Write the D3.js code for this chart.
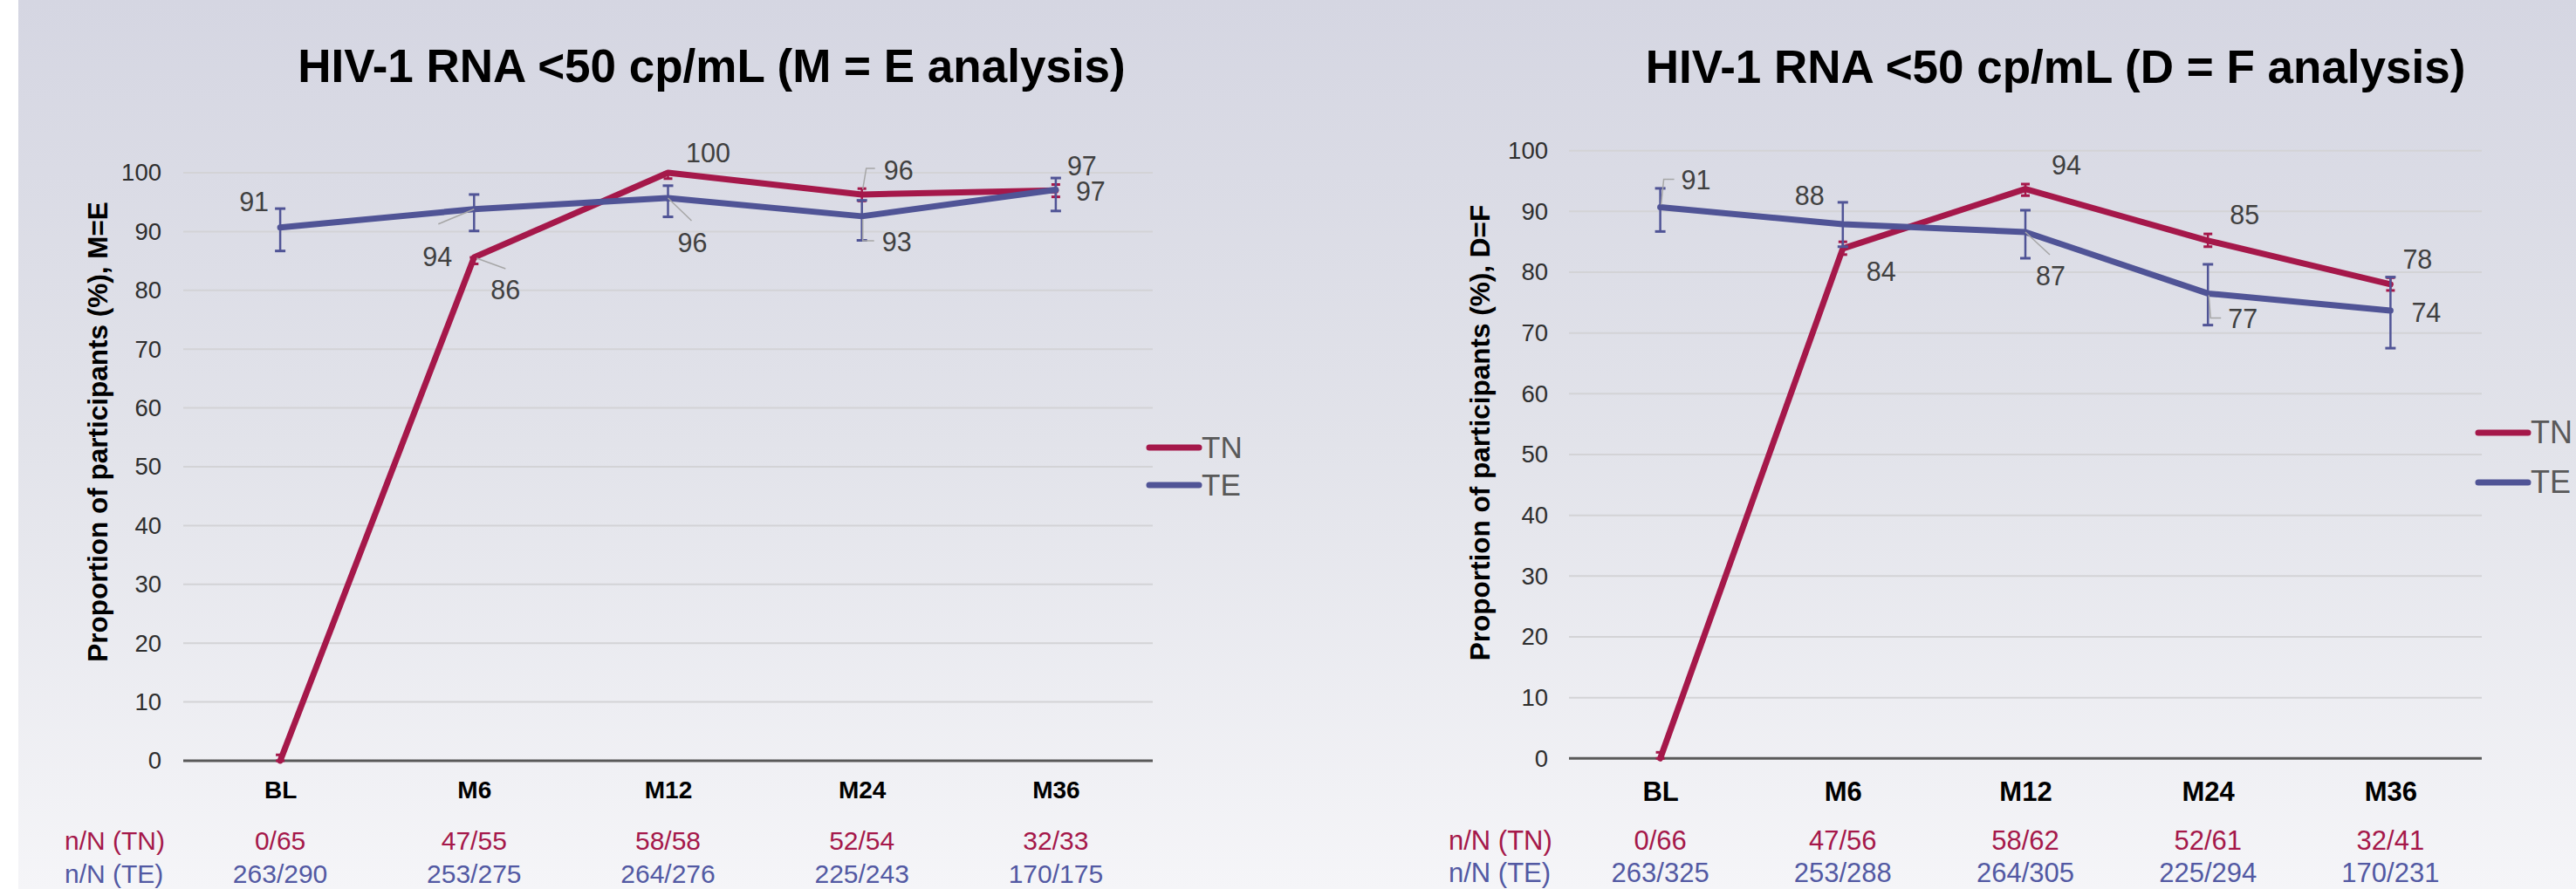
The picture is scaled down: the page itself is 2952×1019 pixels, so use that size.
<!DOCTYPE html>
<html>
<head>
<meta charset="utf-8">
<script src="https://cdn.jsdelivr.net/npm/d3@7"></script>
<style>
  html, body { margin: 0; padding: 0; background: #ffffff; }
  svg { display: block; }
</style>
</head>
<body>
<svg id="chart" width="2952" height="1019"></svg>
<script>
// ---- Data -------------------------------------------------------------
const categories = ["BL", "M6", "M12", "M24", "M36"];
const seriesNames = ["TN", "TE"];
const yTicks = [0, 10, 20, 30, 40, 50, 60, 70, 80, 90, 100];
const tableRowLabels = ["n/N (TN)", "n/N (TE)"];

// M = E analysis
const titleME = "HIV-1 RNA <50 cp/mL (M = E analysis)";
const yLabelME = "Proportion of participants (%), M=E";
const tnME = [0, 85.6, 100, 96.3, 97.0];
const teME = [90.7, 93.8, 95.7, 92.6, 97.1];
const tnLowME = [0, 84.5, 99.0, 95.2, 95.9];
const tnHighME = [1.0, 85.6, 100, 97.3, 98.0];
const teLowME = [86.7, 90.1, 92.5, 88.5, 93.5];
const teHighME = [93.9, 96.3, 97.8, 95.3, 99.1];
const nTnME = ["0/65", "47/55", "58/58", "52/54", "32/33"];
const nTeME = ["263/290", "253/275", "264/276", "225/243", "170/175"];

// D = F analysis
const titleDF = "HIV-1 RNA <50 cp/mL (D = F analysis)";
const yLabelDF = "Proportion of participants (%), D=F";
const tnDF = [0, 83.9, 93.7, 85.2, 78.0];
const teDF = [90.7, 87.9, 86.6, 76.5, 73.7];
const tnLowDF = [0, 82.9, 92.6, 84.2, 77.0];
const tnHighDF = [1.0, 85.0, 94.5, 86.3, 79.1];
const teLowDF = [86.7, 84.2, 82.3, 71.3, 67.5];
const teHighDF = [93.8, 91.5, 90.2, 81.3, 79.2];
const nTnDF = ["0/66", "47/56", "58/62", "52/61", "32/41"];
const nTeDF = ["263/325", "253/288", "264/305", "225/294", "170/231"];

// ---- Styling ----------------------------------------------------------
const FONT = "'Liberation Sans', Arial, Helvetica, sans-serif";
const colors = { TN: "#a5184a", TE: "#505496" };
const tableColors = { TN: "#a5184a", TE: "#5259a3" };
const fmt = d3.format(".0f");

const svg = d3.select("#chart");
const W = 2952, H = 1019;

// background: white margin on the left, soft vertical gradient elsewhere
const defs = svg.append("defs");
const grad = defs.append("linearGradient")
  .attr("id", "bg").attr("x1", 0).attr("y1", 0).attr("x2", 0).attr("y2", 1);
grad.append("stop").attr("offset", "0%").attr("stop-color", "#d5d6e2");
grad.append("stop").attr("offset", "50%").attr("stop-color", "#e2e3ea");
grad.append("stop").attr("offset", "100%").attr("stop-color", "#f5f5f8");
svg.append("rect").attr("width", W).attr("height", H).attr("fill", "#ffffff");
svg.append("rect").attr("x", 21).attr("width", W - 21).attr("height", H).attr("fill", "url(#bg)");

// Data-label placement (offsets from the point, in px)
const labelsME = {
  TN: [null,
       { dx: 19, dy: 37, anchor: "start", leader: [[3, 1], [36, 13]] },
       { dx: 46, dy: -23, anchor: "middle" },
       { dx: 25, dy: -28, anchor: "start", leader: [[15, -30], [5, -30], [1, -6]] },
       { dx: 13, dy: -28, anchor: "start" }],
  TE: [{ dx: -13, dy: -29, anchor: "end" },
       { dx: -25, dy: 55, anchor: "end", leader: [[-41, 17], [0, 0]] },
       { dx: 11, dy: 51, anchor: "start", leader: [[0, 0], [27, 26]] },
       { dx: 23, dy: 29, anchor: "start", leader: [[1, 3], [1, 28], [14, 28]] },
       { dx: 23, dy: 2, anchor: "start" }]
};
const labelsDF = {
  TN: [null,
       { dx: 27, dy: 26, anchor: "start" },
       { dx: 30, dy: -27, anchor: "start" },
       { dx: 25, dy: -29, anchor: "start" },
       { dx: 14, dy: -29, anchor: "start" }],
  TE: [{ dx: 24, dy: -31, anchor: "start", leader: [[16, -32], [4, -32], [1, -3]] },
       { dx: -21, dy: -33, anchor: "end" },
       { dx: 12, dy: 50, anchor: "start", leader: [[0, 0], [28, 26]] },
       { dx: 23, dy: 29, anchor: "start", leader: [[15, 28], [3, 28], [1, 2]] },
       { dx: 24, dy: 2, anchor: "start" }]
};

const panels = [
  {
    title: titleME, yLabel: yLabelME,
    series: { TN: tnME, TE: teME },
    low: { TN: tnLowME, TE: teLowME }, high: { TN: tnHighME, TE: teHighME },
    table: { TN: nTnME, TE: nTeME },
    labels: labelsME,
    x: [210, 1321], y: [872, 198],
    titleX: 815.5, titleY: 93.5, titleSize: 53,
    tickRight: 185, tickSize: 27.5,
    yLabelX: 123, yLabelY: 495, yLabelSize: 31.5,
    catY: 915, catSize: 28,
    tableX: 74, rowY: [963, 1001], tableSize: 30,
    legendX: 1317, legendY: [513, 556], legendLen: 57, legendSize: 35,
    labelSize: 30.5
  },
  {
    title: titleDF, yLabel: yLabelDF,
    series: { TN: tnDF, TE: teDF },
    low: { TN: tnLowDF, TE: teLowDF }, high: { TN: tnHighDF, TE: teHighDF },
    table: { TN: nTnDF, TE: nTeDF },
    labels: labelsDF,
    x: [1798, 2844], y: [869.3, 172.7],
    titleX: 2355.6, titleY: 94.5, titleSize: 53,
    tickRight: 1774, tickSize: 27.5,
    yLabelX: 1707, yLabelY: 496, yLabelSize: 31.5,
    catY: 918, catSize: 31,
    tableX: 1660, rowY: [962.7, 1000], tableSize: 31,
    legendX: 2840, legendY: [496, 553], legendLen: 57, legendSize: 36,
    labelSize: 30.5
  }
];

panels.forEach(drawPanel);

function drawPanel(p) {
  const g = svg.append("g");
  const x = d3.scalePoint().domain(categories).range(p.x).padding(0.5);
  const y = d3.scaleLinear().domain([0, 100]).range(p.y);

  // title
  g.append("text")
    .attr("x", p.titleX).attr("y", p.titleY)
    .attr("text-anchor", "middle")
    .attr("font-family", FONT).attr("font-weight", "bold")
    .attr("font-size", p.titleSize).attr("fill", "#000")
    .text(p.title);

  // gridlines
  g.append("g").selectAll("line")
    .data(yTicks.filter(t => t > 0))
    .join("line")
    .attr("x1", p.x[0]).attr("x2", p.x[1])
    .attr("y1", d => y(d)).attr("y2", d => y(d))
    .attr("stroke", "#d3d3d6").attr("stroke-width", 2);

  // y axis tick labels
  const yAxis = d3.axisLeft(y).tickValues(yTicks).tickSize(0).tickPadding(0);
  const ya = g.append("g")
    .attr("transform", `translate(${p.tickRight},0)`)
    .call(yAxis);
  ya.select(".domain").remove();
  ya.selectAll("text")
    .attr("font-family", FONT).attr("font-size", p.tickSize)
    .attr("fill", "#2e2e2e");

  // y axis title
  g.append("text")
    .attr("transform", `translate(${p.yLabelX},${p.yLabelY}) rotate(-90)`)
    .attr("text-anchor", "middle")
    .attr("font-family", FONT).attr("font-weight", "bold")
    .attr("font-size", p.yLabelSize).attr("fill", "#000")
    .text(p.yLabel);

  // baseline axis
  g.append("line")
    .attr("x1", p.x[0]).attr("x2", p.x[1])
    .attr("y1", y(0)).attr("y2", y(0))
    .attr("stroke", "#595959").attr("stroke-width", 3);

  // category labels
  const xAxis = d3.axisBottom(x).tickSize(0).tickPadding(0);
  const xa = g.append("g")
    .attr("transform", `translate(0,${p.catY})`)
    .call(xAxis);
  xa.select(".domain").remove();
  xa.selectAll("text")
    .attr("dy", 0)
    .attr("font-family", FONT).attr("font-weight", "bold")
    .attr("font-size", p.catSize).attr("fill", "#000");

  const line = d3.line().x((d, i) => x(categories[i])).y(d => y(d));

  // series: TN first, TE drawn on top
  seriesNames.forEach(name => {
    const vals = p.series[name];
    const sg = g.append("g");
    sg.append("path")
      .datum(vals)
      .attr("d", line)
      .attr("fill", "none")
      .attr("stroke", colors[name])
      .attr("stroke-width", 7)
      .attr("stroke-linejoin", "round")
      .attr("stroke-linecap", "round");

    // error bars
    const cap = name === "TE" ? 6 : 5;
    const eb = sg.append("g").selectAll("g")
      .data(categories.map((c, i) => ({ c, lo: p.low[name][i], hi: p.high[name][i] })))
      .join("g");
    eb.append("line")
      .attr("x1", d => x(d.c)).attr("x2", d => x(d.c))
      .attr("y1", d => y(d.lo)).attr("y2", d => y(d.hi))
      .attr("stroke", colors[name]).attr("stroke-width", 2.5);
    ["lo", "hi"].forEach(k => {
      eb.append("line")
        .attr("x1", d => x(d.c) - cap).attr("x2", d => x(d.c) + cap)
        .attr("y1", d => y(d[k])).attr("y2", d => y(d[k]))
        .attr("stroke", colors[name]).attr("stroke-width", 3);
    });
  });

  // leader lines and data labels
  seriesNames.forEach(name => {
    const vals = p.series[name];
    vals.forEach((v, i) => {
      const L = p.labels[name][i];
      if (!L) return;
      const px = x(categories[i]), py = y(v);
      if (L.leader) {
        g.append("path")
          .attr("d", d3.line()(L.leader.map(([a, b]) => [px + a, py + b])))
          .attr("fill", "none")
          .attr("stroke", "#a6a6a6").attr("stroke-width", 1.5);
      }
      g.append("text")
        .attr("x", px + L.dx).attr("y", py + L.dy)
        .attr("dy", "0.35em")
        .attr("text-anchor", L.anchor)
        .attr("font-family", FONT).attr("font-size", p.labelSize)
        .attr("fill", "#404040")
        .text(fmt(v));
    });
  });

  // legend
  seriesNames.forEach((name, k) => {
    const ly = p.legendY[k];
    g.append("line")
      .attr("x1", p.legendX).attr("x2", p.legendX + p.legendLen)
      .attr("y1", ly).attr("y2", ly)
      .attr("stroke", colors[name]).attr("stroke-width", 7)
      .attr("stroke-linecap", "round");
    g.append("text")
      .attr("x", p.legendX + p.legendLen + 3).attr("y", ly + 12)
      .attr("font-family", FONT).attr("font-size", p.legendSize)
      .attr("fill", "#595959")
      .text(name);
  });

  // n/N table under the axis
  seriesNames.forEach((name, k) => {
    const ry = p.rowY[k];
    g.append("text")
      .attr("x", p.tableX).attr("y", ry).attr("dy", "0.35em")
      .attr("font-family", FONT).attr("font-size", p.tableSize)
      .attr("fill", tableColors[name])
      .text(tableRowLabels[k]);
    g.append("g").selectAll("text")
      .data(p.table[name])
      .join("text")
      .attr("x", (d, i) => x(categories[i]))
      .attr("y", ry).attr("dy", "0.35em")
      .attr("text-anchor", "middle")
      .attr("font-family", FONT).attr("font-size", p.tableSize)
      .attr("fill", tableColors[name])
      .text(d => d);
  });
}
</script>
</body>
</html>
